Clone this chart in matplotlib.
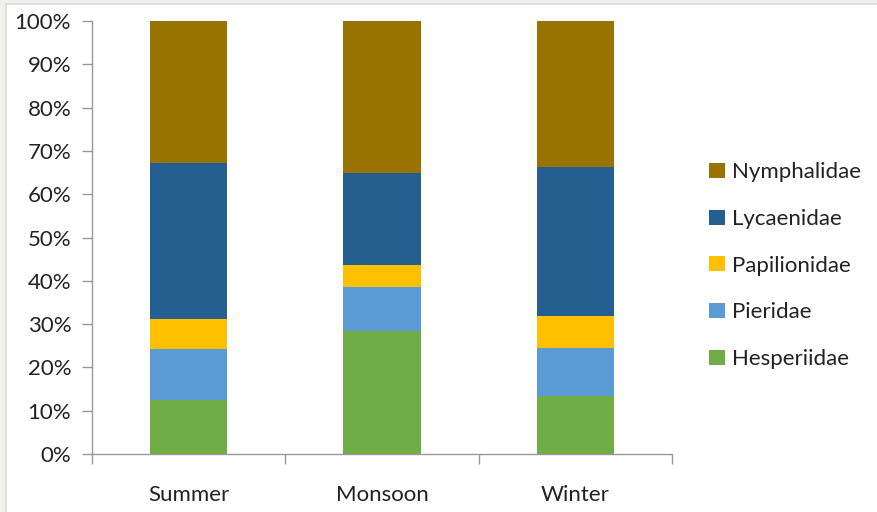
import numpy as np
import matplotlib.pyplot as plt
from matplotlib.patches import Rectangle

seasons = ["Summer", "Monsoon", "Winter"]
families = ["Hesperiidae", "Pieridae", "Papilionidae", "Lycaenidae", "Nymphalidae"]

# share of each family per season (%)
hesperiidae = [12.5, 28.5, 13.4]
pieridae = [11.8, 10.1, 11.1]
papilionidae = [6.9, 5.0, 7.4]
lycaenidae = [36.1, 21.2, 34.3]
nymphalidae = [32.7, 35.2, 33.8]

colors = ["#70AD47", "#5B9BD5", "#FFC000", "#255E91", "#997300"]

plt.rcParams["font.family"] = ["Lato", "DejaVu Sans"]
FS = 16

fig = plt.figure(figsize=(8.78, 5.12), dpi=100)
fig.patch.set_facecolor("#f0f0ee")
# white chart area with thin grey frame
fig.add_artist(Rectangle((6 / 878, -0.01), 1.0, (512 - 4) / 512 + 0.01,
                         transform=fig.transFigure, facecolor="white",
                         edgecolor="#dcdcd8", linewidth=1.2, zorder=-1))

ax = fig.add_axes([92 / 878, (512 - 454) / 512, (672 - 92) / 878, (454 - 21) / 512])
ax.set_facecolor("none")

x = np.arange(len(seasons))
bottom = np.zeros(len(seasons))
series = [hesperiidae, pieridae, papilionidae, lycaenidae, nymphalidae]
for name, vals, c in zip(families, series, colors):
    ax.bar(x, vals, 0.4, bottom=bottom, color=c, label=name, edgecolor="none")
    bottom += np.array(vals)

ax.set_xlim(-0.5, 2.5)
ax.set_ylim(0, 100)
ax.set_yticks(np.arange(0, 101, 10))
ax.set_yticklabels([f"{v}%" for v in range(0, 101, 10)], fontsize=FS, color="#222222")
ax.set_xticks(x)
ax.set_xticklabels(seasons, fontsize=FS, color="#222222")
ax.set_xticks([-0.5, 0.5, 1.5, 2.5], minor=True)
ax.tick_params(axis="x", which="major", length=0, pad=22)
ax.tick_params(axis="x", which="minor", length=7, color="#999999", width=1)
ax.tick_params(axis="y", length=7, color="#999999", width=1, pad=8)

for s in ["top", "right"]:
    ax.spines[s].set_visible(False)
for s in ["left", "bottom"]:
    ax.spines[s].set_color("#999999")
    ax.spines[s].set_linewidth(1)

handles, labels = ax.get_legend_handles_labels()
ax.legend(handles[::-1], labels[::-1], loc="center left",
          bbox_to_anchor=(1.03, 0.435), frameon=False, fontsize=FS,
          handlelength=0.68, handleheight=0.68, handletextpad=0.35,
          labelspacing=1.2, labelcolor="#222222")

fig.savefig("out.png", dpi=100)
